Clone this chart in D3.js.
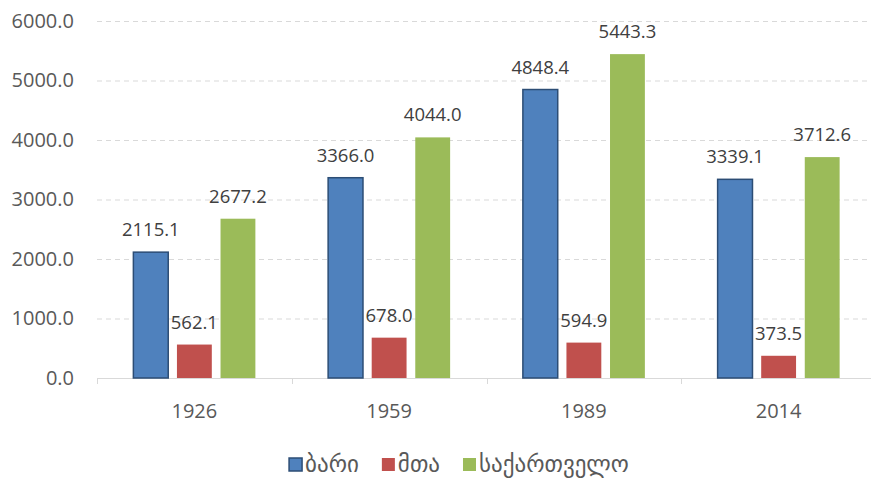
<!DOCTYPE html>
<html>
<head>
<meta charset="utf-8">
<script src="https://cdn.jsdelivr.net/npm/d3@7"></script>
<style>
  body { margin: 0; background: #fff; }
  text { font-family: "Open Sans", "DejaVu Sans", sans-serif; }
</style>
</head>
<body>
<div id="chart"></div>
<script>
// Data
const years = ["1926", "1959", "1989", "2014"];
const seriesNames = ["ბარი", "მთა", "საქართველო"];
const bari = [2115.1, 3366.0, 4848.4, 3339.1];
const mta = [562.1, 678.0, 594.9, 373.5];
const sakartvelo = [2677.2, 4044.0, 5443.3, 3712.6];
const yTicks = [0, 1000, 2000, 3000, 4000, 5000, 6000];

const colors = ["#4F81BD", "#C0504D", "#9BBB59"];
const strokes = ["#2C4D75", "#C0504D", "#9BBB59"];
const allValues = [bari, mta, sakartvelo];

// Dimensions
const dimensions = { width: 871, height: 478, left: 97, right: 876, top: 21, bottom: 378 };

const svg = d3
  .select("#chart")
  .append("svg")
  .attr("width", dimensions.width)
  .attr("height", dimensions.height);

// Scales
const xScale = d3.scaleBand().domain(years).range([dimensions.left, dimensions.right]).padding(0);
const groupPad = (xScale.bandwidth() - 122) / 2;
const innerScale = d3
  .scaleBand()
  .domain(seriesNames)
  .range([groupPad, xScale.bandwidth() - groupPad])
  .paddingInner(0.2)
  .paddingOuter(0);
const yScale = d3.scaleLinear().domain([0, 6000]).range([dimensions.bottom, dimensions.top]);

// Gridlines
svg
  .append("g")
  .selectAll("line")
  .data(yTicks.filter((d) => d > 0))
  .join("line")
  .attr("x1", dimensions.left)
  .attr("x2", 871)
  .attr("y1", (d) => yScale(d) + 0.5)
  .attr("y2", (d) => yScale(d) + 0.5)
  .attr("stroke", "#D9D9D9")
  .attr("stroke-width", 1)
  .attr("stroke-dasharray", "5,4");

// Y axis
const yAxis = d3.axisLeft(yScale).tickValues(yTicks).tickFormat(d3.format(".1f")).tickSize(0).tickPadding(0);
const yG = svg.append("g").attr("transform", `translate(74,0)`).call(yAxis);
yG.select(".domain").remove();
yG.selectAll("text").attr("fill", "#595959").style("font-size", "20px");

// X axis
const xAxis = d3.axisBottom(xScale).tickSize(0).tickPadding(22);
const xG = svg.append("g").attr("transform", `translate(0,${dimensions.bottom})`).call(xAxis);
xG.select(".domain").attr("stroke", "#D9D9D9").attr("d", `M${dimensions.left},0.5H871`);
xG.selectAll("text").attr("fill", "#595959").style("font-size", "20px").attr("dy", null).attr("y", 40);
xG
  .selectAll(".sep")
  .data(years)
  .join("line")
  .attr("class", "sep")
  .attr("x1", (d) => Math.round(xScale(d)) + 0.5)
  .attr("x2", (d) => Math.round(xScale(d)) + 0.5)
  .attr("y1", 0)
  .attr("y2", 6)
  .attr("stroke", "#D9D9D9");

// Bars
const rows = [];
years.forEach((y, i) => {
  seriesNames.forEach((s, j) => {
    rows.push({ year: y, series: s, idx: j, value: allValues[j][i] });
  });
});

const bars = svg.append("g");
bars
  .selectAll("rect")
  .data(rows)
  .join("rect")
  .attr("x", (d) => xScale(d.year) + innerScale(d.series))
  .attr("y", (d) => yScale(d.value))
  .attr("width", innerScale.bandwidth())
  .attr("height", (d) => yScale(0) - yScale(d.value))
  .attr("fill", (d) => colors[d.idx])
  .attr("stroke", (d) => strokes[d.idx])
  .attr("stroke-width", (d) => (d.idx === 0 ? 1.5 : 0));

// Data labels
svg
  .append("g")
  .selectAll("text")
  .data(rows)
  .join("text")
  .attr("x", (d) => xScale(d.year) + innerScale(d.series) + innerScale.bandwidth() / 2)
  .attr("y", (d) => yScale(d.value) - 16)
  .attr("text-anchor", "middle")
  .attr("fill", "#404040")
  .style("font-size", "18.5px")
  .text((d) => d.value.toFixed(1));

// Legend
const legend = svg.append("g");
const items = legend
  .selectAll("g")
  .data(seriesNames)
  .join("g");
items
  .append("rect")
  .attr("width", 13)
  .attr("height", 13)
  .attr("y", -14)
  .attr("fill", (d, i) => colors[i])
  .attr("stroke", (d, i) => strokes[i])
  .attr("stroke-width", (d, i) => (i === 0 ? 1.5 : 0));
items
  .append("text")
  .attr("x", 16)
  .attr("y", 0)
  .attr("fill", "#595959")
  .style("font-family", "'DejaVu Sans', sans-serif")
  .style("font-size", "23px")
  .text((d) => d);

let offset = 0;
items.each(function () {
  const w = this.getBBox().width;
  d3.select(this).attr("transform", `translate(${offset},0)`);
  offset += w + 23;
});
const totalW = offset - 23;
legend.attr("transform", `translate(${459 - totalW / 2},472)`);
</script>
</body>
</html>
